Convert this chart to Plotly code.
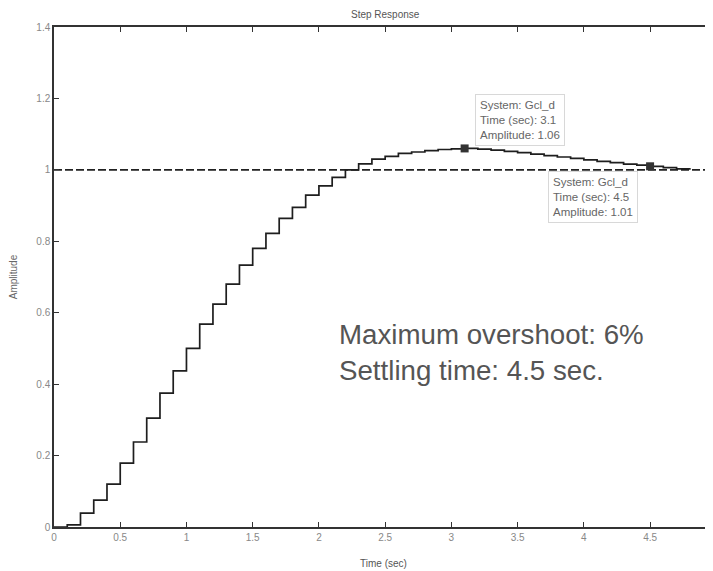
import plotly.graph_objects as go

# Discrete step response samples (Ts = 0.1 s)
time_s = [0.0, 0.1, 0.2, 0.3, 0.4, 0.5, 0.6, 0.7, 0.8, 0.9,
          1.0, 1.1, 1.2, 1.3, 1.4, 1.5, 1.6, 1.7, 1.8, 1.9,
          2.0, 2.1, 2.2, 2.3, 2.4, 2.5, 2.6, 2.7, 2.8, 2.9,
          3.0, 3.1, 3.2, 3.3, 3.4, 3.5, 3.6, 3.7, 3.8, 3.9,
          4.0, 4.1, 4.2, 4.3, 4.4, 4.5, 4.6, 4.7, 4.8]
amplitude = [0.0, 0.006, 0.039, 0.075, 0.12, 0.179, 0.238, 0.305, 0.375, 0.437,
             0.50, 0.568, 0.624, 0.68, 0.733, 0.78, 0.822, 0.864, 0.895, 0.929,
             0.955, 0.979, 1.0, 1.017, 1.03, 1.038, 1.046, 1.05, 1.054, 1.057,
             1.059, 1.06, 1.058, 1.055, 1.052, 1.048, 1.044, 1.04, 1.036, 1.032,
             1.028, 1.024, 1.02, 1.016, 1.013, 1.01, 1.006, 1.003, 1.0]

ref_x = [0.0, 5.0]
ref_y = [1.0, 1.0]

tip_x = [3.1, 4.5]
tip_y = [1.06, 1.01]
tip_text = ["System: Gcl_d<br>Time (sec): 3.1<br>Amplitude: 1.06",
            "System: Gcl_d<br>Time (sec): 4.5<br>Amplitude: 1.01"]
tip_box_x = [3.52, 4.07]
tip_box_y = [1.14, 0.925]

x_ticks = [0, 0.5, 1, 1.5, 2, 2.5, 3, 3.5, 4, 4.5]
x_tick_labels = ["0", "0.5", "1", "1.5", "2", "2.5", "3", "3.5", "4", "4.5"]
y_ticks = [0, 0.2, 0.4, 0.6, 0.8, 1.0, 1.2, 1.4]
y_tick_labels = ["0", "0.2", "0.4", "0.6", "0.8", "1", "1.2", "1.4"]

FONT = "Liberation Sans, Arial, sans-serif"

fig = go.Figure()
fig.add_trace(go.Scatter(x=ref_x, y=ref_y, mode="lines",
                         line=dict(color="#222222", width=1.6, dash="8px,3px"),
                         hoverinfo="skip", showlegend=False))
fig.add_trace(go.Scatter(x=time_s, y=amplitude, mode="lines",
                         line=dict(color="#1e1e1e", width=1.7, shape="hv"),
                         showlegend=False))
fig.add_trace(go.Scatter(x=tip_x, y=tip_y, mode="markers",
                         marker=dict(symbol="square", size=8, color="#333333"),
                         showlegend=False))

for bx, by, t in zip(tip_box_x, tip_box_y, tip_text):
    fig.add_annotation(x=bx, y=by, xref="x", yref="y", text=t, showarrow=False,
                       align="left", xanchor="center", yanchor="middle",
                       bgcolor="white", bordercolor="#d8d8d8", borderwidth=1,
                       borderpad=4, font=dict(family=FONT, size=11.5, color="#666666"))

fig.add_annotation(x=2.14, y=0.49, xref="x", yref="y",
                   text="Maximum overshoot: 6%<br>Settling time: 4.5 sec.",
                   showarrow=False, align="left", xanchor="left", yanchor="middle",
                   font=dict(family=FONT, size=27.7, color="#555555"))

axis_common = dict(showgrid=False, zeroline=False, showline=True, linecolor="#333333",
                   linewidth=1.5, mirror="ticks", ticks="inside", ticklen=5,
                   tickcolor="#333333", tickwidth=1, automargin=False,
                   tickfont=dict(family=FONT, size=10, color="#888888"))

fig.update_xaxes(range=[0, 4.975], tickvals=x_ticks, ticktext=x_tick_labels,
                 title=dict(text="Time (sec)", font=dict(family=FONT, size=10, color="#555555"),
                            standoff=18),
                 **axis_common)
fig.update_yaxes(range=[0, 1.4], tickvals=y_ticks, ticktext=y_tick_labels,
                 title=dict(text="Amplitude", font=dict(family=FONT, size=10, color="#666666"),
                            standoff=29),
                 **axis_common)

fig.update_layout(
    width=705, height=563,
    margin=dict(l=46, r=0, t=19, b=44, autoexpand=False),
    paper_bgcolor="white", plot_bgcolor="white",
    title=dict(text="Step Response", x=0.535, xanchor="center", y=0.994, yanchor="top",
               font=dict(family=FONT, size=10, color="#555555")),
)

fig.write_html("out.html")
